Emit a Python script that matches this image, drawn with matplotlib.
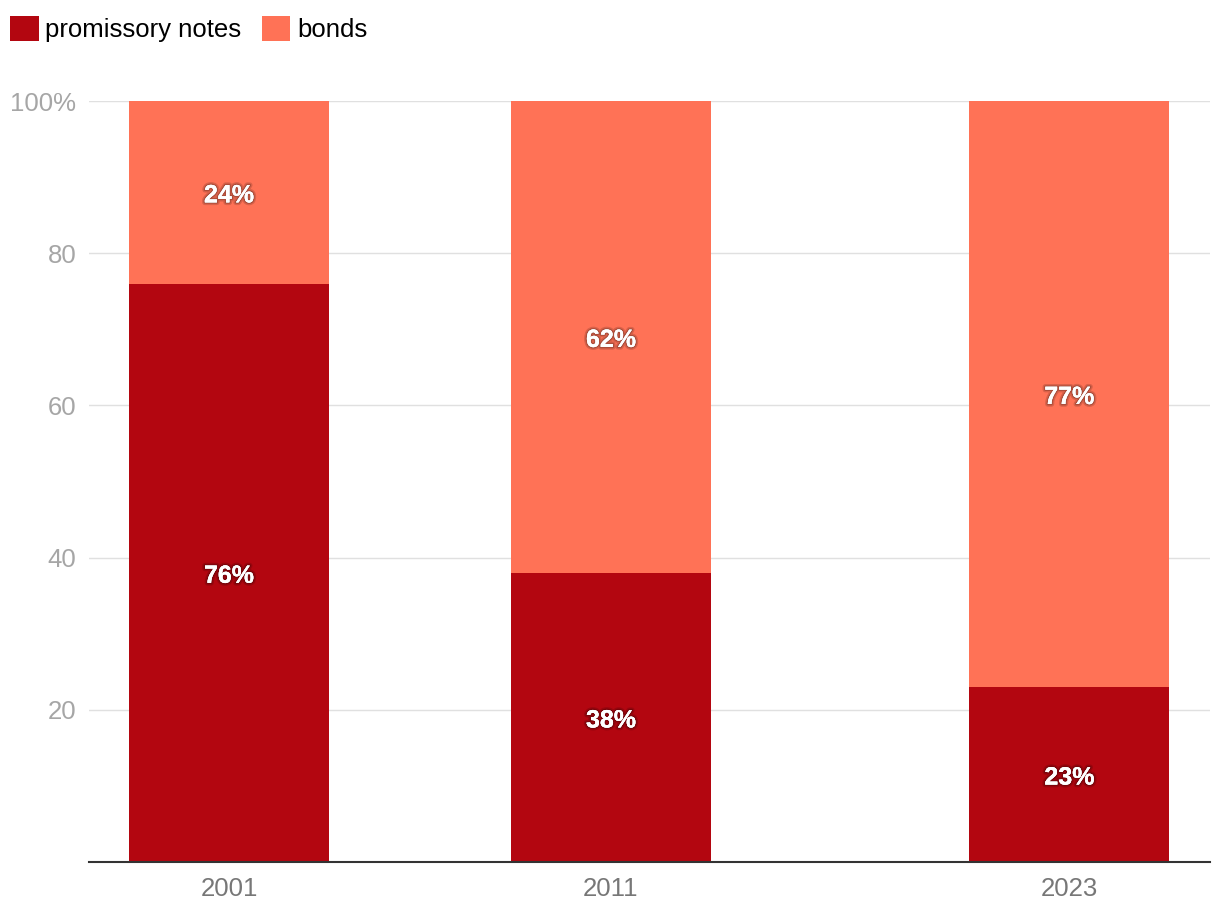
import matplotlib
matplotlib.use("Agg")
import matplotlib.pyplot as plt
import matplotlib.patheffects as pe
from matplotlib.transforms import offset_copy

years = [2001, 2011, 2023]
promissory = [76, 38, 23]
bonds = [24, 62, 77]
series_names = ["promissory notes", "bonds"]
colors = ["#b30610", "#ff7256"]

plt.rcParams['font.family'] = ['Liberation Sans', 'DejaVu Sans']

fig = plt.figure(figsize=(12.2, 9.22), dpi=100)
ax = fig.add_axes([89/1220, 60/922, (1210-89)/1220, (862-101)/922])

width = 200/38.2
b1 = ax.bar(years, promissory, width=width, color=colors[0], label=series_names[0], zorder=2)
b2 = ax.bar(years, bonds, width=width, bottom=promissory, color=colors[1], label=series_names[1], zorder=2)

trans = offset_copy(ax.transData, fig=fig, x=0, y=-3, units='dots')
for x, p, b in zip(years, promissory, bonds):
    for mid, val in ((p/2, p), (p + b/2, b)):
        t = ax.text(x, mid, f"{val}%", ha='center', va='center', color='white',
                    fontsize=18, fontweight='bold', zorder=3, transform=trans)
        t.set_path_effects([pe.withStroke(linewidth=4, foreground=(0, 0, 0, 0.15)),
                            pe.withStroke(linewidth=2, foreground=(0, 0, 0, 0.2)),
                            pe.Normal()])

ax.set_xlim(2001 - 140/38.2, 2001 + 981/38.2)
ax.set_ylim(0, 100)
ax.set_yticks([20, 40, 60, 80, 100])
ax.set_yticklabels(["20", "40", "60", "80", "100%"])
ax.set_xticks(years)
ax.set_xticklabels([str(y) for y in years])
ax.tick_params(axis='y', length=0, labelsize=18.5, labelcolor='#a6a6a6', pad=9)
ax.tick_params(axis='x', length=0, labelsize=18.5, labelcolor='#777777', pad=11)
ax.grid(axis='y', color='#e0e0e0', linewidth=1, zorder=0)
ax.set_axisbelow(True)
for s in ['top', 'right', 'left']:
    ax.spines[s].set_visible(False)
ax.spines['bottom'].set_color('#333333')
ax.spines['bottom'].set_linewidth(1.5)
ax.spines['bottom'].set_zorder(4)

fig.legend(handles=[b1, b2], labels=series_names, loc='upper left',
           bbox_to_anchor=(0.0, 1.0 - 6/922),
           ncol=2, frameon=False, fontsize=18.5, handlelength=1.1, handleheight=1.1,
           handletextpad=0.27, columnspacing=0.8, borderaxespad=0.0, borderpad=0.4)

fig.savefig("out.png", dpi=100)
